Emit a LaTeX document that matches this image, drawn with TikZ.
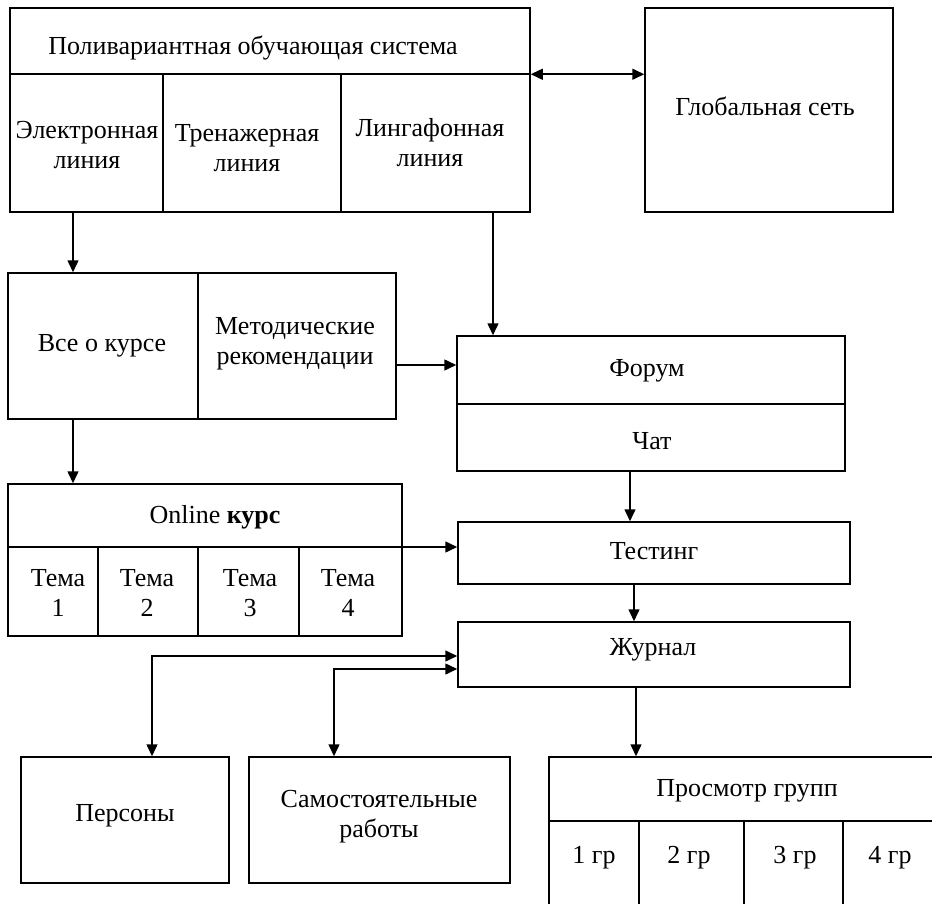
\documentclass[tikz,border=0pt]{standalone}
\usepackage{fontspec}
\setmainfont{Liberation Serif}
\usetikzlibrary{arrows.meta,positioning,fit,calc}

\begin{document}
\begin{tikzpicture}[
  x=0.5pt, y=-0.5pt,
  box/.style={draw,line width=0.75pt,inner sep=0pt},
  part/.style={line width=0.75pt},
  lbl/.style={font=\fontsize{13}{15}\selectfont,align=center,inner sep=1pt,yshift=-1.5pt},
  link/.style={line width=0.75pt,-{Triangle[length=6pt,width=5.5pt]}},
  twoway/.style={line width=0.75pt,
                 {Triangle[length=6pt,width=5.5pt]}-{Triangle[length=6pt,width=5.5pt]}}
]
  \fill[white] (0,0) rectangle (932,904);
  \clip (0,0) rectangle (932,904);

  %% ---- learning system (top left) ----
  \node[box,fit={(10,8) (530,212)}] (sys) {};
  \draw[part] (10,74) -- (530,74);
  \draw[part] (163,74) -- (163,212);
  \draw[part] (341,74) -- (341,212);
  \node[lbl] (sys-head) at (253,45) {Поливариантная обучающая система};
  \node[lbl] (sys-el)   at (87,142)  {Электронная\\линия};
  \node[lbl] (sys-tr)   at (247,145) {Тренажерная\\линия};
  \node[lbl] (sys-ling) at (430,140) {Лингафонная\\линия};

  %% ---- global network (top right) ----
  \node[box,fit={(645,8) (893,212)}] (net) {};
  \node[lbl] (net-t) at (765,103) {Глобальная сеть};

  %% ---- about the course ----
  \node[box,fit={(8,273) (396,419)}] (about) {};
  \draw[part] (198,273) -- (198,419);
  \node[lbl] (about-all) at (102,343) {Все о курсе};
  \node[lbl] (about-rec) at (295,341) {Методические\\рекомендации};

  %% ---- forum / chat ----
  \node[box,fit={(457,336) (845,471)}] (forum) {};
  \draw[part] (457,404) -- (845,404);
  \node[lbl] (forum-t) at (647,368) {Форум};
  \node[lbl] (chat-t)  at (652,438) {Чат};

  %% ---- online course with topics ----
  \node[box,fit={(8,484) (402,636)}] (online) {};
  \draw[part] (8,547) -- (402,547);
  \foreach \x in {98,198,299} \draw[part] (\x,547) -- (\x,636);
  \node[lbl] (online-t) at (215,514) {Online \textbf{курс}};
  \foreach \x/\n in {58/1,147/2,250/3,348/4}
    \node[lbl] (topic\n) at (\x,590) {Тема\\\n};

  %% ---- testing, journal ----
  \node[box,fit={(458,522) (850,584)}] (test) {};
  \node[lbl] (test-t) at (654,548) {Тестинг};
  \node[box,fit={(458,622) (850,687)}] (journal) {};
  \node[lbl] (journal-t) at (653,647) {Журнал};

  %% ---- bottom row ----
  \node[box,fit={(21,757) (229,883)}] (persons) {};
  \node[lbl] (persons-t) at (125,813) {Персоны};
  \node[box,fit={(249,757) (510,883)}] (selfwork) {};
  \node[lbl] (selfwork-t) at (379,814) {Самостоятельные\\работы};
  \node[box,fit={(549,757) (950,920)}] (groups) {};
  \draw[part] (549,821) -- (950,821);
  \foreach \x in {639,744,843} \draw[part] (\x,821) -- (\x,920);
  \node[lbl] (groups-t) at (747,788) {Просмотр групп};
  \foreach \x/\n in {594/1,689/2,795/3,890/4}
    \node[lbl] (gr\n) at (\x,855) {\n\ гр};

  %% ---- connectors ----
  \coordinate (xa) at (73,0);
  \coordinate (xb) at (493,0);
  \coordinate (xc) at (630,0);
  \coordinate (xd) at (634,0);
  \coordinate (xe) at (636,0);
  \coordinate (ya) at (0,365);
  \coordinate (yb) at (0,547);
  \coordinate (k1) at (152,656);
  \coordinate (k2) at (334,669);

  \draw[twoway] ($(sys.north east)+(0,67)$) -- ($(net.north west)+(0,67)$);
  \draw[link] (sys.south -| xa) -- (about.north -| xa);
  \draw[link] (about.south -| xa) -- (online.north -| xa);
  \draw[link] (sys.south -| xb) -- (forum.north -| xb);
  \draw[link] (about.east |- ya) -- (forum.west |- ya);
  \draw[link] (online.east |- yb) -- (test.west |- yb);
  \draw[link] (forum.south -| xc) -- (test.north -| xc);
  \draw[link] (test.south -| xd) -- (journal.north -| xd);
  \draw[link] (journal.south -| xe) -- (groups.north -| xe);
  \draw[twoway] (persons.north -| k1) |- (journal.west |- k1);
  \draw[twoway] (selfwork.north -| k2) |- (journal.west |- k2);
\end{tikzpicture}
\end{document}
